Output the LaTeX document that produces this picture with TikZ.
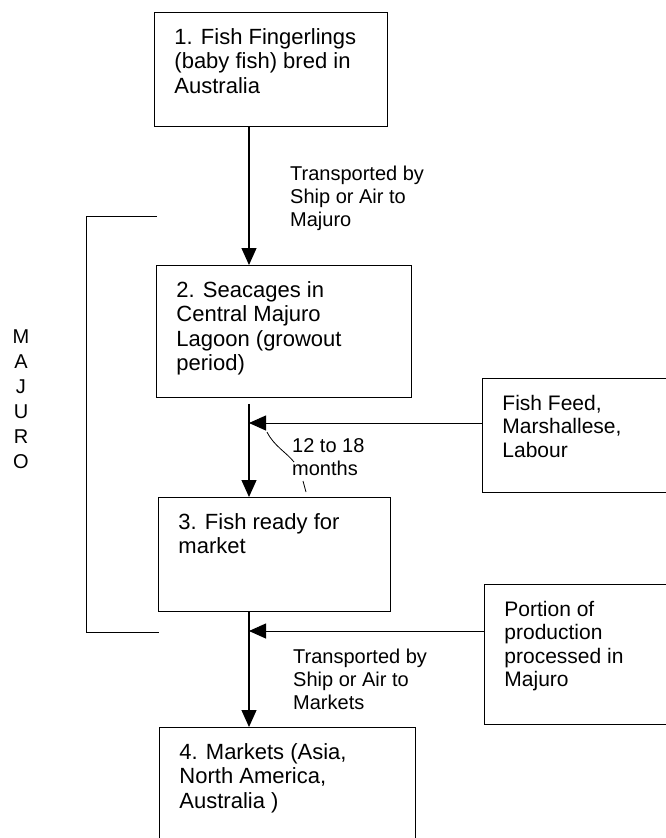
\documentclass[tikz,border=0pt]{standalone}
\usepackage{fontspec}
\setmainfont{Liberation Sans}
\usetikzlibrary{arrows.meta}

% box text: fixed width and height, first baseline 32pt below the top
\newcommand{\stagetext}[3]{\parbox[t][#2][t]{#1}{\raggedright\rule{0pt}{32pt}#3}}

\begin{document}
\begin{tikzpicture}[x=1pt, y=-1pt,
    stage/.style={draw, line width=0.9pt, rectangle, anchor=north west, inner xsep=20pt, inner ysep=0pt, font=\fontsize{22}{24.5}\selectfont},
    input/.style={stage, font=\fontsize{21}{23.5}\selectfont},
    note/.style={anchor=base west, inner sep=0pt, font=\fontsize{20}{23}\selectfont},
    flow/.style={-{Triangle[width=15pt,length=17pt]}, line width=1.2pt},
    feed/.style={-{Triangle[width=15pt,length=17pt]}, line width=0.9pt}]
    \useasboundingbox (0,0) rectangle (666,838);

    % Nodes
    \node[stage] (Fingerlings) at (154,12) {\stagetext{193pt}{114pt}{1. Fish Fingerlings\\(baby fish) bred in\\Australia}};
    \node[stage] (Seacages) at (156,265) {\stagetext{215pt}{132pt}{2. Seacages in\\Central Majuro\\Lagoon (growout\\period)}};
    \node[stage] (Ready) at (158,497) {\stagetext{192pt}{114pt}{3. Fish ready for\\market}};
    \node[stage] (Markets) at (159,727) {\stagetext{216pt}{140pt}{4. Markets (Asia,\\North America,\\Australia )}};

    \node[input] (Feed) at (482,378) {\stagetext{160pt}{114pt}{Fish Feed,\\Marshallese,\\Labour}};
    \node[input] (Portion) at (484,584) {\stagetext{160pt}{140pt}{Portion of\\production\\processed in\\Majuro}};

    % Labels
    \node[note] (ShipMajuro) at (290,180) {\parbox[t]{160pt}{Transported by\\Ship or Air to\\Majuro}};
    \node[note] (Growout) at (292,452) {\parbox[t]{120pt}{12 to 18\\months}};
    \node[note] (ShipMarkets) at (293,663) {\parbox[t]{160pt}{Transported by\\Ship or Air to\\Markets}};
    \node[anchor=base, inner sep=0pt, font=\fontsize{20}{25}\selectfont] (Majuro) at (21,343) {\parbox[t]{20pt}{\centering M\\A\\J\\U\\R\\O}};

    \coordinate (spine) at (249,0);
    \coordinate (FeedJoin) at (249,423);
    \coordinate (PortionJoin) at (249,631);

    % Edges
    \draw[flow] (Fingerlings.south -| spine) -- (Seacages.north -| spine);
    \draw[flow, shorten <=6pt] (Seacages.south -| spine) -- (Ready.north -| spine);
    \draw[flow] (Ready.south -| spine) -- (Markets.north -| spine);

    \draw[feed] (Feed.west |- FeedJoin) -- (FeedJoin);
    \draw[feed] (Portion.west |- PortionJoin) -- (PortionJoin);

    % Majuro bracket
    \draw[line width=0.9pt] (157,216) -- (86,216) -- (86,632) -- (159,632);

    % stray pen marks
    \draw[line width=0.8pt] (267,432) .. controls (274,446) and (286,452) .. (294,462);
    \draw[line width=0.8pt] (303,481) -- (306,492);
\end{tikzpicture}
\end{document}
